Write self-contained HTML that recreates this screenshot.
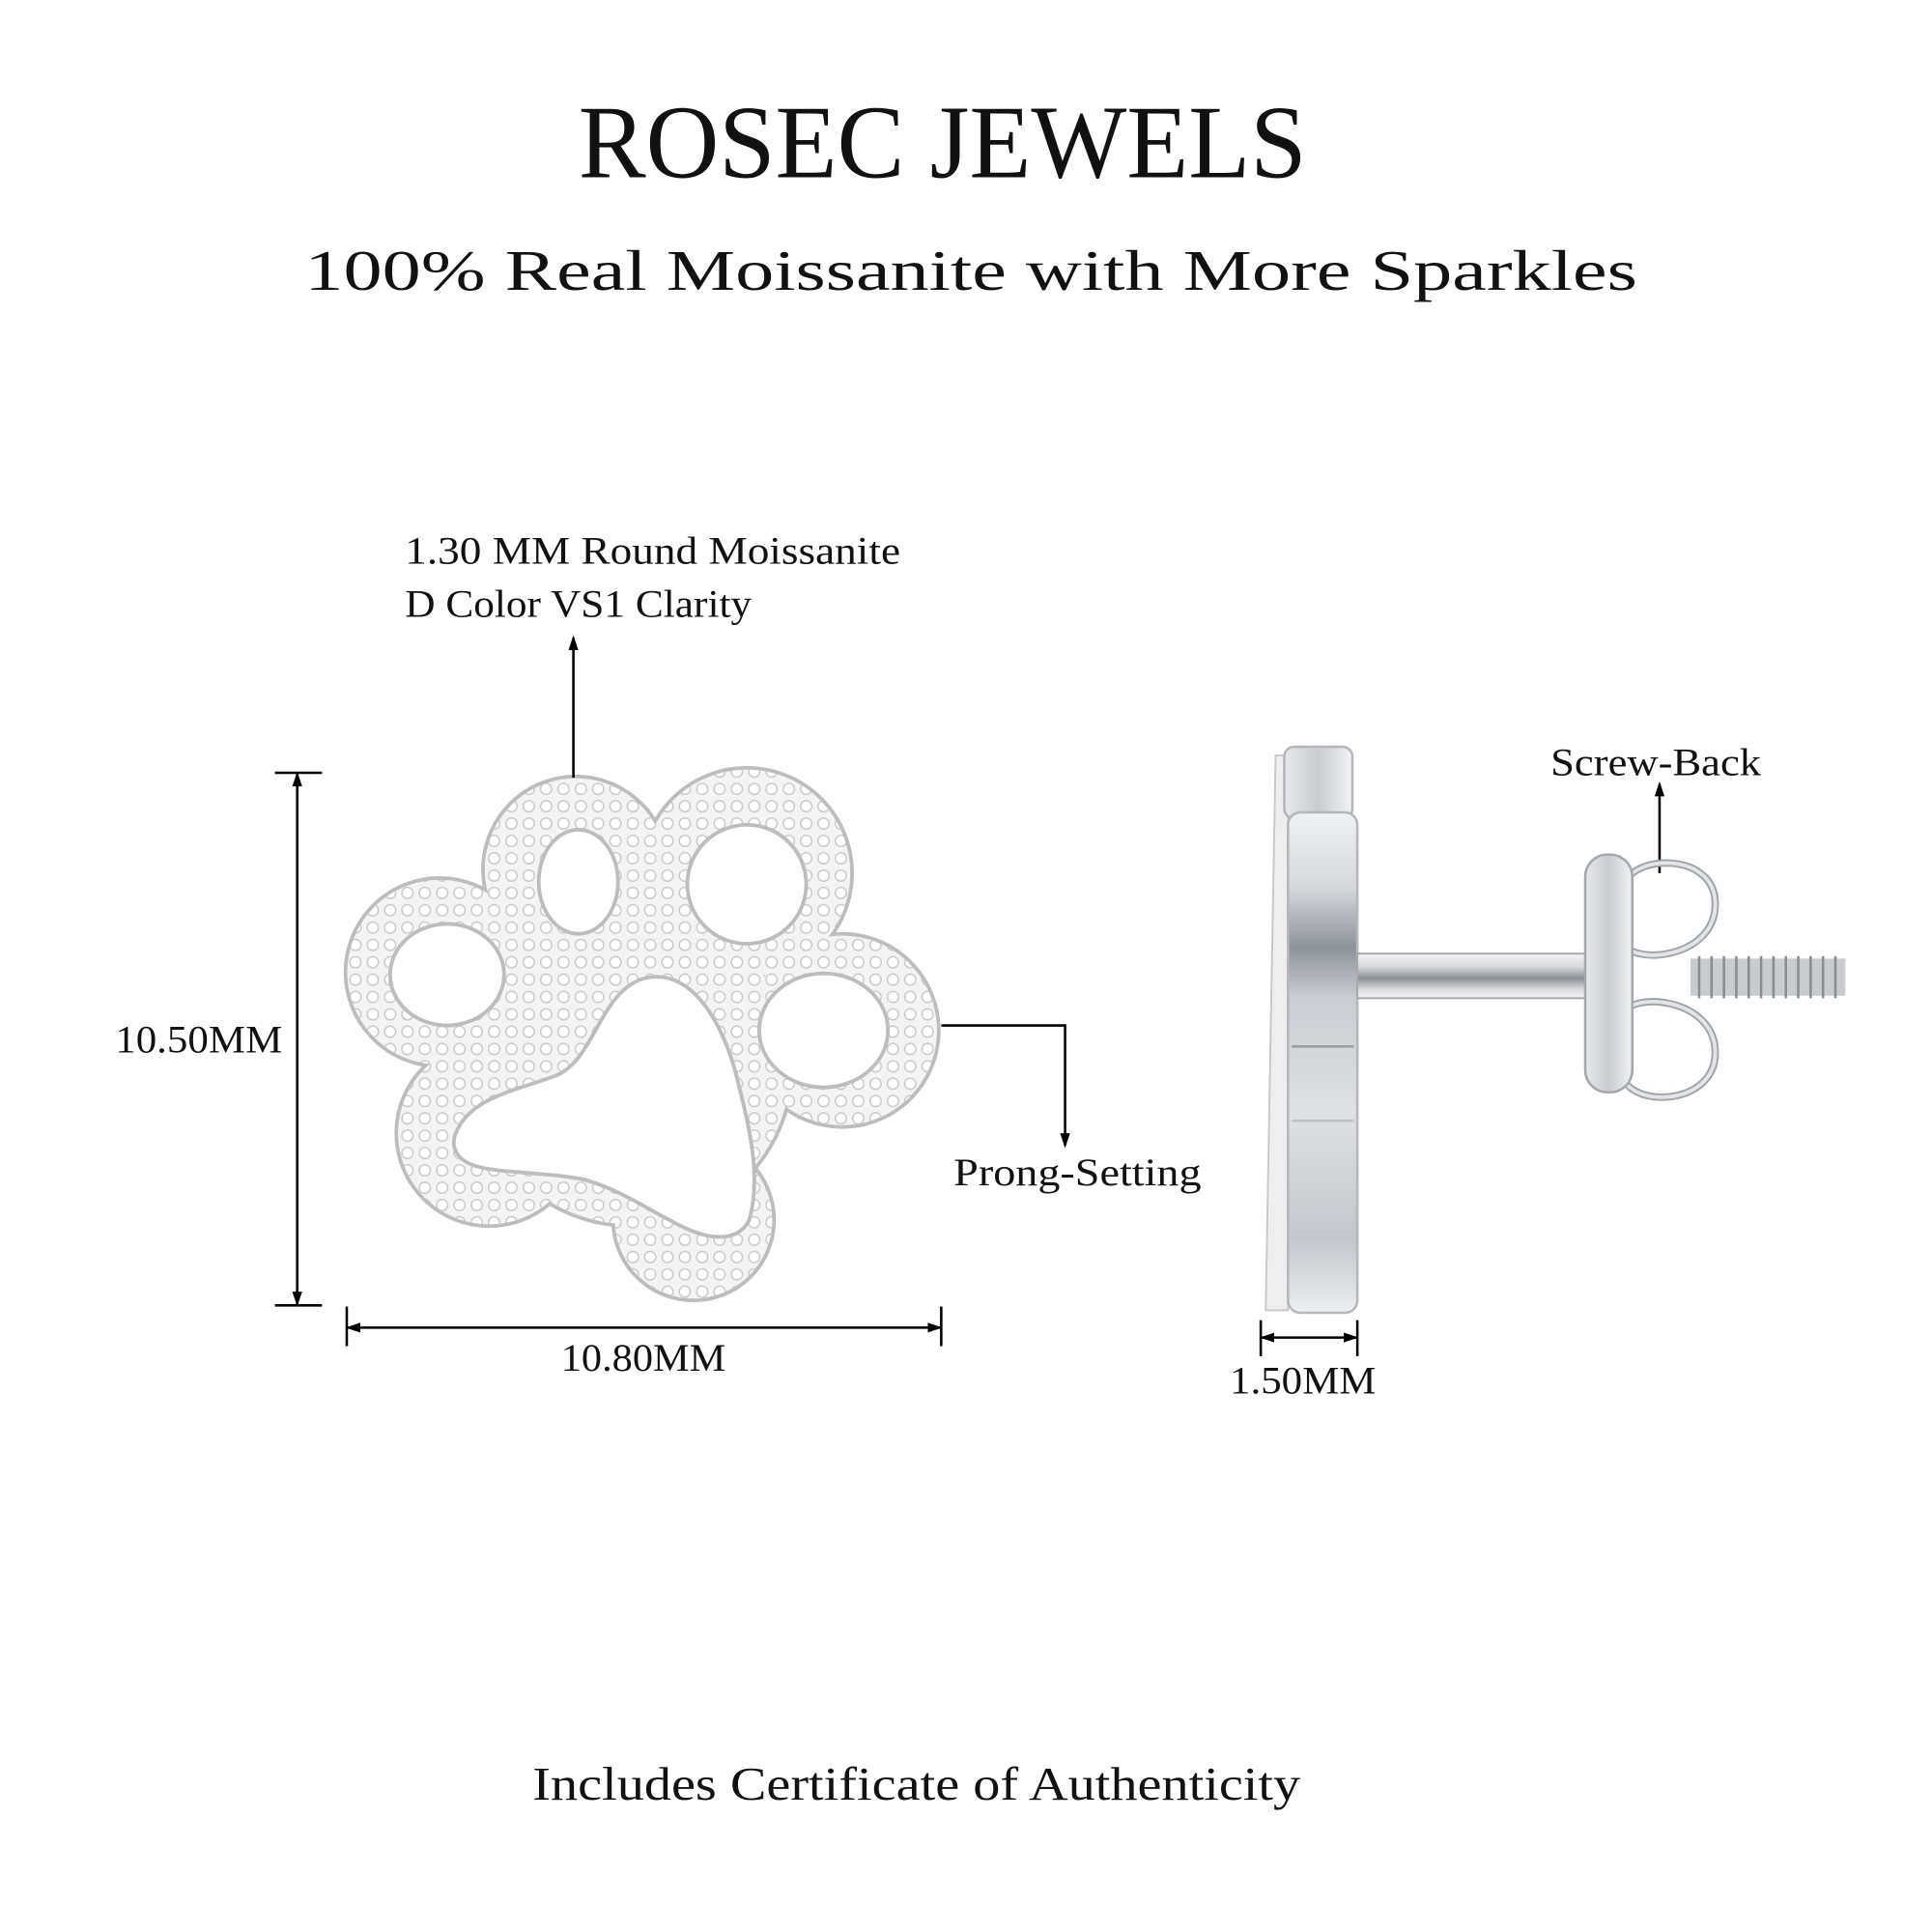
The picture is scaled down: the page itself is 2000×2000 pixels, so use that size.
<!DOCTYPE html>
<html><head><meta charset="utf-8"><style>
html,body{margin:0;padding:0;background:#fff;width:2000px;height:2000px;overflow:hidden}
svg text{font-family:"Liberation Serif","DejaVu Serif",serif;fill:#111}
</style></head><body>
<svg width="2000" height="2000" viewBox="0 0 1560 1560" xmlns="http://www.w3.org/2000/svg">
<defs>
<pattern id="dots" width="14" height="14" patternUnits="userSpaceOnUse">
<rect width="14" height="14" fill="#f4f4f4"/>
<circle cx="7" cy="7" r="4.5" fill="#fff" stroke="#c8c8c8" stroke-width="1.1"/>
</pattern>
<linearGradient id="met" x1="0" x2="1" y1="0" y2="0">
<stop offset="0" stop-color="#e8e9eb"/><stop offset="0.5" stop-color="#c9ccd0"/><stop offset="1" stop-color="#f2f3f4"/>
</linearGradient>
<linearGradient id="plate" x1="0" x2="0" y1="0" y2="1">
<stop offset="0" stop-color="#eef0f2"/><stop offset="0.15" stop-color="#d6d8dc"/><stop offset="0.27" stop-color="#8e939a"/><stop offset="0.37" stop-color="#c9ccd1"/><stop offset="0.6" stop-color="#dfe1e4"/><stop offset="0.85" stop-color="#c3c6cb"/><stop offset="1" stop-color="#eceef0"/>
</linearGradient>
<linearGradient id="metv" x1="0" x2="0" y1="0" y2="1">
<stop offset="0" stop-color="#f3f3f4"/><stop offset="0.3" stop-color="#d5d7da"/><stop offset="0.55" stop-color="#8b8f95"/><stop offset="0.8" stop-color="#d9dbde"/><stop offset="1" stop-color="#f4f4f5"/>
</linearGradient>
<marker id="ah" markerWidth="12" markerHeight="10" refX="10" refY="5" orient="auto-start-reverse" markerUnits="userSpaceOnUse"><path d="M0,1 L12,5 L0,9 z" fill="#000"/></marker>
</defs>

<text x="761" y="143" font-size="84" text-anchor="middle" textLength="588" lengthAdjust="spacingAndGlyphs">ROSEC JEWELS</text>
<text x="784" y="234" font-size="46" text-anchor="middle" textLength="1076" lengthAdjust="spacingAndGlyphs">100% Real Moissanite with More Sparkles</text>

<g stroke="#bdbdbd" stroke-width="3" fill="#f4f4f4">
<circle cx="465" cy="702" r="75"/><circle cx="603" cy="705" r="85"/><circle cx="355" cy="785" r="76"/>
<circle cx="680" cy="832" r="78"/><circle cx="560" cy="985" r="65"/><circle cx="395" cy="915" r="75"/>
<circle cx="510" cy="860" r="130"/>
</g>
<g fill="url(#dots)">
<circle cx="465" cy="702" r="73.5"/><circle cx="603" cy="705" r="83.5"/><circle cx="355" cy="785" r="74.5"/>
<circle cx="680" cy="832" r="76.5"/><circle cx="560" cy="985" r="63.5"/><circle cx="395" cy="915" r="73.5"/>
<circle cx="510" cy="860" r="128.5"/>
</g>
<g fill="#fff" stroke="#bdbdbd" stroke-width="3">
<ellipse cx="467" cy="712" rx="32" ry="42"/>
<ellipse cx="603" cy="714" rx="48" ry="48"/>
<ellipse cx="361" cy="787" rx="46" ry="41"/>
<ellipse cx="665" cy="832" rx="52" ry="46"/>
<path d="M368,915 C380,885 420,880 450,868 C480,855 485,800 520,790 C560,780 585,830 595,870 C605,910 615,950 605,985 C595,1005 570,1000 550,990 C520,975 500,960 470,952 C430,945 400,948 380,940 C368,935 364,925 368,915 Z"/>
</g>

<g stroke="#000" stroke-width="2" fill="none">
<line x1="222" y1="624" x2="260" y2="624"/><line x1="222" y1="1054" x2="260" y2="1054"/>
<line x1="240" y1="625" x2="240" y2="1053" marker-start="url(#ah)" marker-end="url(#ah)"/>
<line x1="280" y1="1055" x2="280" y2="1087"/><line x1="760" y1="1055" x2="760" y2="1087"/>
<line x1="281" y1="1072" x2="759" y2="1072" marker-start="url(#ah)" marker-end="url(#ah)"/>
<line x1="463" y1="628" x2="463" y2="515" marker-end="url(#ah)"/>
<polyline points="760,828 860,828 860,925" marker-end="url(#ah)"/>
<line x1="1340" y1="705" x2="1340" y2="633" marker-end="url(#ah)"/>
<line x1="1018" y1="1066" x2="1018" y2="1095"/><line x1="1096" y1="1066" x2="1096" y2="1095"/>
<line x1="1019" y1="1080" x2="1095" y2="1080" marker-start="url(#ah)" marker-end="url(#ah)"/>
</g>

<path d="M1030,610 L1022,1058 L1040,1058 L1040,610 Z" fill="#eee" stroke="#c8c8c8" stroke-width="1.5"/>
<rect x="1037" y="603" width="55" height="58" rx="8" fill="url(#met)" stroke="#b5b7bb" stroke-width="2"/>
<rect x="1040" y="656" width="56" height="404" rx="10" fill="url(#plate)" stroke="#b5b7bb" stroke-width="2"/>
<line x1="1043" y1="845" x2="1093" y2="845" stroke="#9a9da2" stroke-width="2"/>
<line x1="1043" y1="905" x2="1093" y2="905" stroke="#c0c2c5" stroke-width="2"/>
<rect x="1096" y="770" width="194" height="36" fill="url(#metv)" stroke="#a5a8ac" stroke-width="1.5"/>
<g fill="none" stroke="#a0a3a8" stroke-width="6">
<path d="M1310,720 C1310,690 1385,685 1385,730 C1385,775 1315,780 1310,760"/>
<path d="M1310,865 C1310,895 1385,895 1385,850 C1385,805 1315,800 1310,820"/>
</g>
<g fill="none" stroke="#e3e4e6" stroke-width="3">
<path d="M1310,720 C1310,690 1385,685 1385,730 C1385,775 1315,780 1310,760"/>
<path d="M1310,865 C1310,895 1385,895 1385,850 C1385,805 1315,800 1310,820"/>
</g>
<rect x="1365" y="774" width="125" height="30" fill="#c9cbce"/>
<g stroke="#8a8d92" stroke-width="2">
<line x1="1372" y1="772" x2="1372" y2="806"/><line x1="1382" y1="772" x2="1382" y2="806"/><line x1="1392" y1="772" x2="1392" y2="806"/><line x1="1402" y1="772" x2="1402" y2="806"/><line x1="1412" y1="772" x2="1412" y2="806"/><line x1="1422" y1="772" x2="1422" y2="806"/><line x1="1432" y1="772" x2="1432" y2="806"/><line x1="1442" y1="772" x2="1442" y2="806"/><line x1="1452" y1="772" x2="1452" y2="806"/><line x1="1462" y1="772" x2="1462" y2="806"/><line x1="1472" y1="772" x2="1472" y2="806"/><line x1="1482" y1="772" x2="1482" y2="806"/>
</g>
<rect x="1280" y="690" width="38" height="192" rx="18" fill="url(#met)" stroke="#a5a8ac" stroke-width="2"/>

<g font-size="31">
<text x="327" y="455" textLength="400" lengthAdjust="spacingAndGlyphs">1.30 MM Round Moissanite</text>
<text x="327" y="498" textLength="280" lengthAdjust="spacingAndGlyphs">D Color VS1 Clarity</text>
<text x="93" y="850" textLength="135" lengthAdjust="spacingAndGlyphs">10.50MM</text>
<text x="453" y="1107" textLength="133" lengthAdjust="spacingAndGlyphs">10.80MM</text>
<text x="770" y="957" textLength="200" lengthAdjust="spacingAndGlyphs">Prong-Setting</text>
<text x="1252" y="626" textLength="170" lengthAdjust="spacingAndGlyphs">Screw-Back</text>
<text x="993" y="1125" textLength="118" lengthAdjust="spacingAndGlyphs">1.50MM</text>
</g>
<text x="430" y="1453" font-size="38" textLength="620" lengthAdjust="spacingAndGlyphs">Includes Certificate of Authenticity</text>
</svg>
</body></html>
